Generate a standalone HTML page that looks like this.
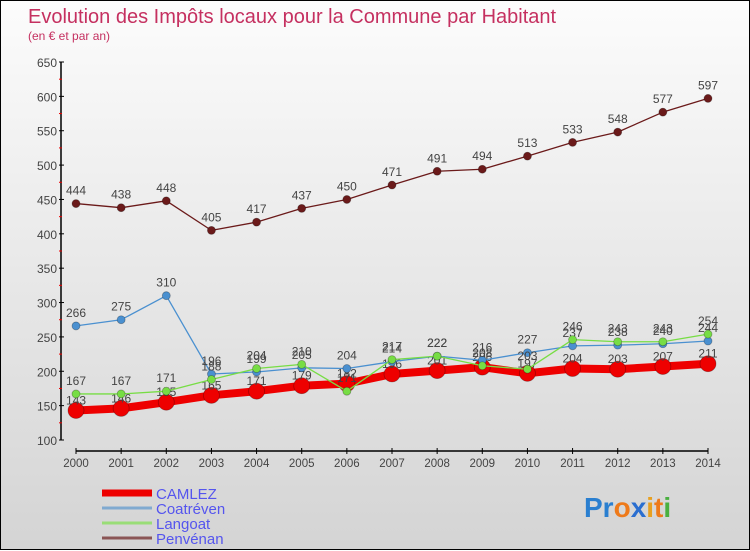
<!DOCTYPE html>
<html><head><meta charset="utf-8">
<style>
html,body{margin:0;padding:0;}
body{width:750px;height:550px;overflow:hidden;font-family:"Liberation Sans","DejaVu Sans",sans-serif;}
#wrap{position:relative;width:748px;height:548px;border:1px solid #000;background:linear-gradient(#fcfcfc,#d4d4d4);}
svg{position:absolute;left:0;top:0;}
</style></head>
<body>
<div id="wrap">
<svg id="chart" width="750" height="550">
<text x="27" y="22" font-size="20" fill="#c53060">Evolution des Impôts locaux pour la Commune par Habitant</text>
<text x="27" y="39" font-size="12" fill="#c53060">(en € et par an)</text>
<g id="axes"></g>
<g id="series"></g>
<g id="legend"></g>
<text x="583" y="516" font-size="28" font-weight="bold"><tspan fill="#2a7fd0">Pr</tspan><tspan fill="#ee7a1a">o</tspan><tspan fill="#2a6ed0">x</tspan><tspan fill="#e8a020">i</tspan><tspan fill="#ee7a1a">t</tspan><tspan fill="#4ab040">i</tspan></text>
</svg>
</div>
<script>
const years=[2000,2001,2002,2003,2004,2005,2006,2007,2008,2009,2010,2011,2012,2013,2014];
const camlez=[143,146,155,165,171,179,182,196,201,206,197,204,203,207,211];
const coatreven=[266,275,310,196,199,205,204,214,222,216,227,237,238,240,244];
const langoat=[167,167,171,188,204,210,171,217,222,208,203,246,243,243,254];
const penvenan=[444,438,448,405,417,437,450,471,491,494,513,533,548,577,597];
const yTicks=[100,150,200,250,300,350,400,450,500,550,600,650];
const NS='http://www.w3.org/2000/svg';
function X(i){return 75+i*(707-75)/(years.length-1);}
function Y(v){return 439-(v-100)*(439-61)/550;}
function mk(t,a,p){const e=document.createElementNS(NS,t);for(const k in a)e.setAttribute(k,a[k]);p.appendChild(e);return e;}
const axes=document.getElementById('axes');
let yl=mk('line',{x1:60,y1:61,x2:60,y2:439,stroke:'#000','stroke-width':1.5},axes);


yTicks.forEach((v,i)=>{
  mk('line',{x1:58,y1:Y(v),x2:63,y2:Y(v),stroke:'#000'},axes);
  if(i<yTicks.length-1)mk('line',{x1:58,y1:Y(v+25),x2:61,y2:Y(v+25),stroke:'#e00'},axes);
  const t=mk('text',{x:56,y:Y(v)+5,'font-size':12,fill:'#444','text-anchor':'end'},axes);
  t.textContent=v;
  
  
});
let xl=mk('line',{x1:75,y1:450,x2:707,y2:450,stroke:'#000','stroke-width':1.5},axes);


years.forEach((y,i)=>{
  mk('line',{x1:X(i),y1:447,x2:X(i),y2:453,stroke:'#000'},axes);
  const t=mk('text',{x:X(i),y:466,'font-size':11.5,fill:'#444','text-anchor':'middle'},axes);
  t.textContent=y;
  
  
});
const S=document.getElementById('series');
function series(data,color,lw,r,name,dy){
  const g=mk('g',{},S);
  
  
  mk('polyline',{points:data.map((v,i)=>X(i)+','+Y(v)).join(' '),fill:'none',stroke:color,'stroke-width':lw,'stroke-linejoin':'round'},g);
  data.forEach((v,i)=>{
    const c=mk('circle',{cx:X(i),cy:Y(v),r:r,fill:color,stroke:'rgba(0,0,0,0.3)','stroke-width':0.8},g);
    
    
  });
  data.forEach((v,i)=>{
    const t=mk('text',{x:X(i),y:Y(v)+dy,'font-size':12,fill:'#444','text-anchor':'middle'},S);
    t.textContent=v;
    
    
  });
}
series(camlez,'#ee0000',8,8,'camlez',-6);
series(coatreven,'#4a90d0',1.3,4,'coatreven',-9);
series(langoat,'#77dd44',1.3,4,'langoat',-9);
series(penvenan,'#6b1a1a',1.3,4,'penvenan',-9);
const L=document.getElementById('legend');
const leg=[['CAMLEZ','#ee0000',7],['Coatréven','#80aad0',3],['Langoat','#99dd77',3],['Penvénan','#8a5555',3]];
leg.forEach((d,i)=>{
  const y=492+i*15;
  mk('line',{x1:101,y1:y,x2:151,y2:y,stroke:d[1],'stroke-width':d[2]},L);
  const t=mk('text',{x:155,y:y+6,'font-size':15,fill:'#5555ee'},L);
  t.textContent=d[0];
  
  
});
</script>
</body></html>
